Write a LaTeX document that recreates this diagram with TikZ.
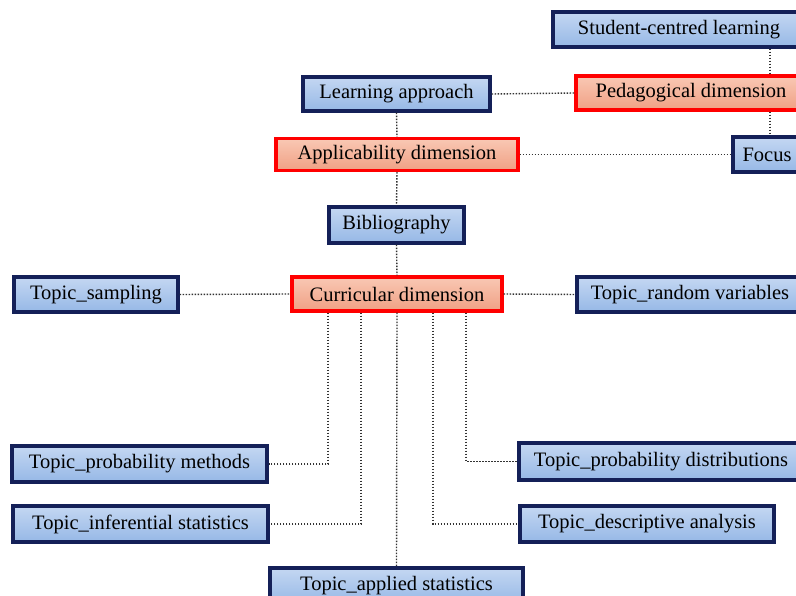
\documentclass[tikz,border=0pt]{standalone}
\usepackage{fontspec}
\setmainfont{Liberation Serif}
\begin{document}
\begin{tikzpicture}[x=1pt,y=1pt,
  box/.style={draw, line width=3.2pt, inner sep=0pt, align=center,
    font=\fontsize{20.5}{23}\selectfont, text=black},
  bluebox/.style={box, draw={rgb,255:red,20;green,32;blue,88}, top color={rgb,255:red,196;green,215;blue,242}, bottom color={rgb,255:red,150;green,184;blue,230}},
  redbox/.style={box, draw={rgb,255:red,255;green,0;blue,0}, top color={rgb,255:red,249;green,200;blue,180}, bottom color={rgb,255:red,240;green,160;blue,132}},
  link/.style={line width=1.4pt, draw=black!80, dash pattern=on 1.5pt off 1.5pt}]
\useasboundingbox (0,0) rectangle (796,-596);
\clip (0,0) rectangle (796,-596);
\fill[white] (0,0) rectangle (796,-596);
\coordinate (c1) at (770,-47);
\coordinate (c2) at (770,-110);
\node[bluebox, minimum width=252, minimum height=35] (scl) at (679,-29.5) {Student-centred learning};
\node[redbox, minimum width=230, minimum height=34] (ped) at (691,-93) {Pedagogical dimension};
\node[bluebox, minimum width=68, minimum height=35] (focus) at (767,-154.5) {Focus};
\node[bluebox, minimum width=187, minimum height=34] (la) at (396.5,-94) {Learning approach};
\node[redbox, minimum width=242, minimum height=32] (app) at (397,-154.5) {Applicability dimension};
\node[bluebox, minimum width=135, minimum height=36] (bib) at (396.5,-225) {Bibliography};
\node[redbox, minimum width=210, minimum height=34] (cur) at (397,-294) {Curricular dimension};
\node[bluebox, minimum width=164, minimum height=35] (samp) at (96,-294.5) {Topic\_sampling};
\node[bluebox, minimum width=226, minimum height=35] (rv) at (690,-294.5) {Topic\_random variables};
\node[bluebox, minimum width=255, minimum height=36] (pm) at (139.5,-464) {Topic\_probability methods};
\node[bluebox, minimum width=255, minimum height=36] (inf) at (140.5,-524) {Topic\_inferential statistics};
\node[bluebox, minimum width=253, minimum height=36] (as) at (396.5,-586) {Topic\_applied statistics};
\node[bluebox, minimum width=284, minimum height=37] (pd) at (661,-461.5) {Topic\_probability distributions};
\node[bluebox, minimum width=254, minimum height=36] (da) at (647,-524) {Topic\_descriptive analysis};
\draw[link] (scl.south -| c1) -- (ped.north -| c1);
\draw[link] (ped.south -| c2) -- (focus.north -| c2);
\draw[link] (la.east) -- (ped.west);
\draw[link] (app.east) -- (focus.west);
\draw[link] (la.south) -- (app.north);
\draw[link] (app.south) -- (bib.north);
\draw[link] (bib.south) -- (cur.north);
\draw[link] (samp.east) -- (cur.west);
\draw[link] (cur.east) -- (rv.west);
\draw[link] ([xshift=-69pt]cur.south) |- (pm.east);
\draw[link] ([xshift=-36pt]cur.south) |- (inf.east);
\draw[link] (cur.south) -- (as.north);
\draw[link] ([xshift=36pt]cur.south) |- (da.west);
\draw[link] ([xshift=69pt]cur.south) |- (pd.west);
\end{tikzpicture}
\end{document}
